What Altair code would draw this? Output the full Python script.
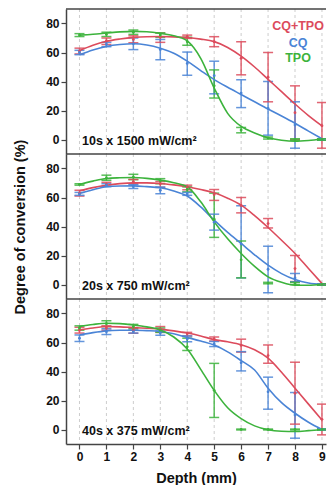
import altair as alt
import pandas as pd

SERIES = ["CQ+TPO", "CQ", "TPO"]
COLORS = ["#dc4b5c", "#4a84d6", "#3cb33c"]
PANELS = ["10s x 1500 mW/cm²", "20s x 750 mW/cm²", "40s x 375 mW/cm²"]
DEPTH = [0, 1, 2, 3, 4, 5, 6, 7, 8, 9]
CURVE_X = [0, 0.5, 1, 1.5, 2, 2.5, 3, 3.5, 4, 4.5, 5, 5.5, 6, 6.5, 7, 7.5, 8, 8.5, 9]

# ---- panel 1 (10s x 1500) ----
P1_RED_MEAN = [61, 68, 69, 70.5, 71, 67.5, 56, 43, 18.5, 9.5]
P1_RED_LO = [59, 65.5, 66.7, 67, 69.7, 64, 44.6, 26, 0, -6]
P1_RED_HI = [63, 70, 71.5, 73.5, 72, 70.9, 67.4, 60, 37, 25.5]
P1_BLUE_MEAN = [60, 65.5, 66, 62, 52.5, 44, 32, 21.5, 10, 0]
P1_BLUE_LO = [58.5, 64, 62, 55, 44.3, 31.5, 22, 3, -6, -0.5]
P1_BLUE_HI = [61.5, 67, 70, 69, 60.3, 54, 41.2, 40, 26, 0.5]
P1_GREEN_MEAN = [72, 72.5, 74, 72, 67.5, 37, 6.5, 1, 0, 0]
P1_GREEN_LO = [71, 71, 72.5, 70.5, 65, 28.6, 4.6, 0.3, -0.5, -0.5]
P1_GREEN_HI = [73, 74, 75.5, 73.5, 70.5, 48, 8.3, 1.7, 0.5, 0.5]
P1_RED_CURVE = [61.3, 65.0, 67.7, 69.3, 70.4, 70.9, 71.0, 70.8, 70.3, 69.2, 67.5, 63.5, 57.5, 50.0, 41.5, 33.0, 24.5, 16.5, 9.4]
P1_BLUE_CURVE = [58.5, 61.8, 64.2, 65.5, 66.0, 65.2, 63.0, 59.5, 54.0, 47.5, 41.3, 36.0, 31.0, 26.0, 21.0, 16.2, 11.2, 5.8, 0.5]
P1_GREEN_CURVE = [72.0, 72.6, 73.4, 74.2, 74.6, 74.3, 73.2, 71.5, 68.0, 56.0, 35.5, 18.0, 9.0, 4.5, 1.2, -0.5, -1.2, -0.7, 0.3]

# ---- panel 2 (20s x 750) ----
P2_RED_MEAN = [63, 69, 71, 69.5, 67, 62, 54.5, 42, 11, 0]
P2_RED_LO = [61, 67.8, 69.5, 67, 65.3, 58, 49.4, 39, 2, -0.5]
P2_RED_HI = [65, 70.5, 72.5, 71, 68.5, 65.5, 60, 45.5, 20, 0.5]
P2_BLUE_MEAN = [62.5, 68.5, 67.5, 65, 62.5, 43, 28, 10.5, 4.5, 0]
P2_BLUE_LO = [61.5, 67.5, 66.2, 62.6, 61.5, 37.5, 4.5, -5.7, 1.9, -0.5]
P2_BLUE_HI = [63.5, 69.5, 68.8, 67.2, 63.5, 48.5, 54.3, 26.4, 7.6, 0.5]
P2_GREEN_MEAN = [69, 73.5, 74, 71.5, 65.5, 45, 17, 1, 0.5, 0]
P2_GREEN_LO = [68.5, 71.9, 72.3, 69.5, 63.9, 32.5, 4.6, 0.5, 0, -0.5]
P2_GREEN_HI = [69.5, 75.4, 76, 73, 67.3, 63, 30, 1.5, 1.5, 0.5]
P2_RED_CURVE = [64.6, 66.8, 68.5, 69.6, 70.1, 70.1, 69.7, 68.7, 67.4, 65.5, 63.2, 59.5, 54.7, 47.5, 39.3, 30.5, 21.4, 11.0, 0.7]
P2_BLUE_CURVE = [62.8, 65.4, 67.4, 67.9, 68.0, 67.5, 66.7, 64.5, 61.0, 53.5, 44.4, 36.0, 28.3, 20.5, 13.3, 7.5, 3.4, 1.0, 0.0]
P2_GREEN_CURVE = [69.0, 71.3, 73.1, 73.6, 73.8, 73.2, 72.0, 70.2, 67.4, 57.0, 43.2, 31.5, 21.4, 12.5, 5.3, 1.5, -0.5, -0.5, 0.0]

# ---- panel 3 (40s x 375) ----
P3_RED_MEAN = [68.5, 70, 68.5, 69, 66, 62.5, 58, 51, 25, 7]
P3_RED_LO = [66.5, 68.5, 66.4, 67, 64.5, 61, 53.4, 45.7, 3.7, -3.7]
P3_RED_HI = [70.5, 71.5, 70.3, 71, 67, 63.8, 62.3, 58.3, 46.4, 17.5]
P3_BLUE_MEAN = [63, 67.5, 67.5, 66.5, 62.5, 59, 46, 26, 10, 0]
P3_BLUE_LO = [60.7, 65.5, 66.5, 65, 60.5, 57.2, 40.4, 14, -6, -0.5]
P3_BLUE_HI = [65.2, 69.5, 68.5, 68, 64.5, 60.7, 53.7, 36.1, 25.5, 0.5]
P3_GREEN_MEAN = [70, 73, 71, 68.5, 57, 27, 0, 0, 0, 0]
P3_GREEN_LO = [68.5, 71, 69.5, 67, 54.5, 8.3, -0.3, -0.3, -0.3, -0.3]
P3_GREEN_HI = [71.5, 75, 72.5, 70, 63, 45.6, 0.3, 0.3, 0.3, 0.3]
P3_RED_CURVE = [68.7, 70.0, 71.0, 70.8, 70.3, 69.8, 69.2, 68.0, 66.5, 64.5, 62.0, 60.5, 58.5, 55.0, 49.2, 39.5, 28.5, 17.5, 6.6]
P3_BLUE_CURVE = [65.2, 66.8, 68.0, 68.4, 68.5, 68.2, 67.6, 66.0, 63.5, 61.0, 58.2, 53.5, 47.5, 41.0, 28.5, 18.5, 11.2, 5.0, 0.0]
P3_GREEN_CURVE = [71.0, 72.4, 73.3, 73.0, 72.1, 70.8, 68.7, 63.8, 55.5, 41.5, 27.0, 15.0, 7.5, 2.5, -0.2, -1.2, -1.4, -0.8, 0.0]

BARS = [
    [(P1_RED_MEAN, P1_RED_LO, P1_RED_HI), (P1_BLUE_MEAN, P1_BLUE_LO, P1_BLUE_HI), (P1_GREEN_MEAN, P1_GREEN_LO, P1_GREEN_HI)],
    [(P2_RED_MEAN, P2_RED_LO, P2_RED_HI), (P2_BLUE_MEAN, P2_BLUE_LO, P2_BLUE_HI), (P2_GREEN_MEAN, P2_GREEN_LO, P2_GREEN_HI)],
    [(P3_RED_MEAN, P3_RED_LO, P3_RED_HI), (P3_BLUE_MEAN, P3_BLUE_LO, P3_BLUE_HI), (P3_GREEN_MEAN, P3_GREEN_LO, P3_GREEN_HI)],
]
CURVES = [
    [P1_RED_CURVE, P1_BLUE_CURVE, P1_GREEN_CURVE],
    [P2_RED_CURVE, P2_BLUE_CURVE, P2_GREEN_CURVE],
    [P3_RED_CURVE, P3_BLUE_CURVE, P3_GREEN_CURVE],
]

W, H = 260, 145
FONT = "Liberation Sans"
FRAME = "#444444"

color = alt.Color("series:N", scale=alt.Scale(domain=SERIES, range=COLORS), legend=None)


def make_panel(i):
    rows = []
    for s, (m, lo, hi) in zip(SERIES, BARS[i]):
        for d, a, b, c in zip(DEPTH, m, lo, hi):
            rows.append({"series": s, "depth": d, "mean": a, "lo": b, "hi": c})
    bars = pd.DataFrame(rows)
    crows = []
    for s, vals in zip(SERIES, CURVES[i]):
        for d, v in zip(CURVE_X, vals):
            crows.append({"series": s, "depth": d, "value": v})
    curves = pd.DataFrame(crows)

    last = i == 2
    if last:
        x_axis = alt.Axis(
            values=DEPTH, grid=False, title="Depth (mm)",
            tickSize=5, tickColor=FRAME, tickWidth=1.2, domainColor=FRAME, domainWidth=1.5,
            labelPadding=2, titlePadding=9,
        )
    else:
        x_axis = None
    y_axis = alt.Axis(
        values=[0, 20, 40, 60, 80], grid=False, tickSize=5, tickColor=FRAME, tickWidth=1.2,
        domainColor=FRAME, domainWidth=1.5, labelPadding=2,
        title="Degree of conversion (%)" if i == 1 else None, titlePadding=18,
    )
    xs = alt.Scale(domain=[-0.5, 9.15], nice=False, zero=False)
    ys = alt.Scale(domain=[-10, 90], nice=False, zero=False)
    X = alt.X("depth:Q", scale=xs, axis=x_axis)

    grid = alt.Chart(pd.DataFrame({"depth": DEPTH})).mark_rule(
        color="#cdcdcd", strokeWidth=1, strokeDash=[3, 3]
    ).encode(x=X, y=alt.value(0), y2=alt.value(H))
    rule = alt.Chart(bars).mark_rule(strokeWidth=1.5, opacity=0.85, clip=True).encode(
        x=X, y=alt.Y("lo:Q", scale=ys, axis=y_axis), y2="hi:Q", color=color)
    cap_lo = alt.Chart(bars).mark_tick(orient="horizontal", size=10, thickness=1.5, opacity=0.85, clip=True).encode(
        x=X, y=alt.Y("lo:Q", scale=ys, axis=y_axis), color=color)
    cap_hi = alt.Chart(bars).mark_tick(orient="horizontal", size=10, thickness=1.5, opacity=0.85, clip=True).encode(
        x=X, y=alt.Y("hi:Q", scale=ys, axis=y_axis), color=color)
    pts = alt.Chart(bars).mark_circle(size=8, opacity=1, clip=True).encode(
        x=X, y=alt.Y("mean:Q", scale=ys, axis=y_axis), color=color)
    line = alt.Chart(curves).mark_line(strokeWidth=1.6, interpolate="monotone", clip=True).encode(
        x=X, y=alt.Y("value:Q", scale=ys, axis=y_axis), color=color, detail="series:N")

    lab = alt.Chart(pd.DataFrame({"label": [PANELS[i]]})).mark_text(
        align="left", baseline="middle", font=FONT, fontSize=12.5, fontWeight="bold", color="#111111"
    ).encode(x=alt.value(16), y=alt.value(132), text="label:N")

    top = alt.Chart(pd.DataFrame({"k": [0]})).mark_rule(color=FRAME, strokeWidth=1.5).encode(
        x=alt.value(0), x2=alt.value(W), y=alt.value(0))

    layers = [grid, rule, cap_lo, cap_hi, line, pts, lab, top]
    if i == 0:
        for s, c, yy in zip(SERIES, COLORS, [17, 33.5, 49]):
            layers.append(
                alt.Chart(pd.DataFrame({"name": [s]})).mark_text(
                    align="center", baseline="middle", font=FONT, fontSize=12.5, fontWeight="bold", color=c
                ).encode(x=alt.value(232), y=alt.value(yy), text="name:N")
            )
    return alt.layer(*layers).properties(width=W, height=H)


chart = alt.vconcat(*[make_panel(i) for i in range(3)], spacing=0, bounds="flush").properties(
    padding={"left": 4, "top": 0, "right": 0, "bottom": 0}
).configure_view(stroke=None).configure_concat(spacing=0).configure_axis(
    labelFont=FONT, labelFontSize=12, labelFontWeight="bold", labelColor="#111111",
    titleFont=FONT, titleFontSize=14.5, titleFontWeight="bold", titleColor="#111111",
)

chart.save("out.html", embed_options={"renderer": "svg", "actions": False})
